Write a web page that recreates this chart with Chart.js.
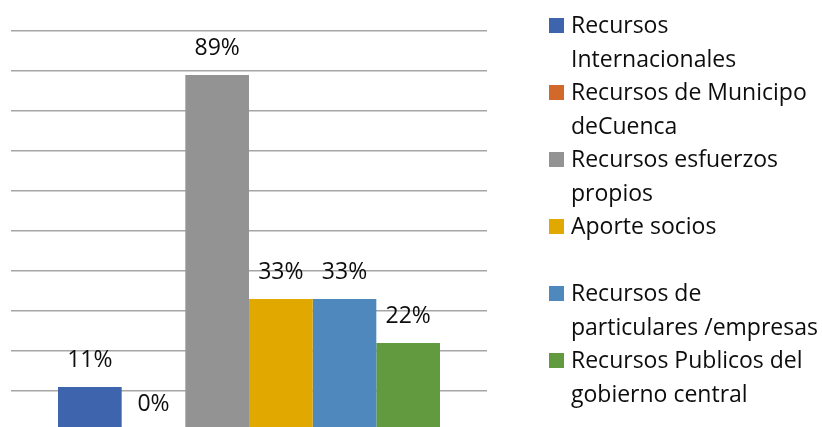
<!DOCTYPE html>
<html>
<head>
<meta charset="utf-8">
<script src="https://cdn.jsdelivr.net/npm/chart.js@4/dist/chart.umd.min.js"></script>
<style>
  html, body { margin: 0; padding: 0; background: #fff; overflow: hidden; }
  #wrap { position: relative; width: 822px; height: 427px; overflow: hidden; }
  #c { position: absolute; left: 0; top: 0; }
  #legend { position: absolute; left: 549px; top: 8px; font-family: "Open Sans", Lato, sans-serif; font-size: 23px; color: #0d0d0d; }
  .item { position: relative; height: 67px; }
  .sw { position: absolute; left: 0; top: 10px; width: 15px; height: 15px; }
  .tx { position: absolute; left: 22px; top: 0; line-height: 33.5px; white-space: pre; }
</style>
</head>
<body>
<div id="wrap">
  <canvas id="c" width="822" height="450"></canvas>
  <div id="legend"></div>
</div>
<script>
const categories = [""];
const seriesNames = [
  "Recursos\nInternacionales",
  "Recursos de Municipo\ndeCuenca",
  "Recursos esfuerzos\npropios",
  "Aporte socios\n",
  "Recursos de\nparticulares /empresas",
  "Recursos Publicos del\ngobierno central"
];
const seriesValues = [11, 0, 89, 33, 33, 22];
const valueLabels = ["11%", "0%", "89%", "33%", "33%", "22%"];
const seriesColors = ["#3D64AD", "#D2692A", "#939393", "#E1A900", "#4F88BC", "#629A3F"];
const yTicks = [0, 10, 20, 30, 40, 50, 60, 70, 80, 90, 100];

const FONT = '"Open Sans", Lato, sans-serif';

const dataLabels = {
  id: 'dataLabels',
  afterDatasetsDraw(chart) {
    const ctx = chart.ctx;
    ctx.save();
    ctx.font = '23px ' + FONT;
    ctx.fillStyle = '#0d0d0d';
    ctx.textAlign = 'center';
    ctx.textBaseline = 'middle';
    chart.data.datasets.forEach((ds, i) => {
      const meta = chart.getDatasetMeta(i);
      meta.data.forEach((bar) => {
        ctx.fillText(valueLabels[i], bar.x, bar.y - 27);
      });
    });
    ctx.restore();
  }
};

const chart = new Chart(document.getElementById('c'), {
  type: 'bar',
  data: {
    labels: categories,
    datasets: seriesNames.map((n, i) => ({
      label: n.replace('\n', ' ').trim(),
      data: [seriesValues[i]],
      backgroundColor: seriesColors[i],
      borderWidth: 0,
      categoryPercentage: 0.8025,
      barPercentage: 1
    }))
  },
  options: {
    responsive: false,
    animation: false,
    devicePixelRatio: 1,
    layout: { padding: { left: 11, right: 335, top: 31, bottom: 19 } },
    plugins: { legend: { display: false }, tooltip: { enabled: false } },
    scales: {
      x: { display: false },
      y: {
        min: 0, max: 100,
        afterBuildTicks(axis) { axis.ticks = yTicks.map(v => ({ value: v })); },
        ticks: { display: false },
        border: { display: false },
        grid: { color: '#A6A6A6', lineWidth: 1.5, drawTicks: false }
      }
    }
  },
  plugins: [dataLabels]
});

const legend = document.getElementById('legend');
seriesNames.forEach((n, i) => {
  const item = document.createElement('div');
  item.className = 'item';
  const sw = document.createElement('div');
  sw.className = 'sw';
  sw.style.background = seriesColors[i];
  const tx = document.createElement('div');
  tx.className = 'tx';
  tx.textContent = n;
  item.appendChild(sw);
  item.appendChild(tx);
  legend.appendChild(item);
});
</script>
</body>
</html>
